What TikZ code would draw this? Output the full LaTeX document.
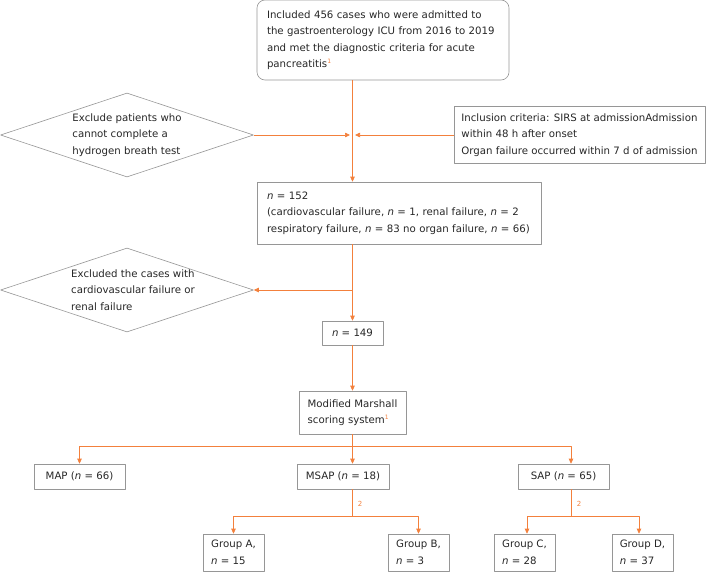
\documentclass[tikz,border=0pt]{standalone}
\usepackage{fontspec}
\setmainfont{DejaVu Sans}
\usetikzlibrary{shapes.geometric,arrows.meta}
\definecolor{lineor}{RGB}{243,128,60}
\definecolor{boxgr}{RGB}{150,150,150}
\newcommand{\ncase}{\textit{n}}
\newcommand{\refone}{\textsuperscript{\color{lineor}\fontsize{6}{6}\selectfont 1}}
\begin{document}
\begin{tikzpicture}[x=1pt,y=-1pt, font=\fontsize{10.2}{16.5}\selectfont, line join=round, >={Triangle[length=5pt,width=4.5pt]}]
	\tikzset{
		box/.style={draw=boxgr, line width=0.6pt, inner xsep=10pt, inner ysep=0pt, align=left, text=black!85},
		dia/.style={draw=boxgr, line width=0.6pt, diamond, minimum width=253pt, minimum height=84pt, inner sep=0pt},
		conn/.style={draw=lineor, line width=0.7pt},
		note/.style={text=lineor, font=\fontsize{7}{7}\selectfont}
	}
	\useasboundingbox (0,0) rectangle (706,581);
	%Hộp đầu
	\node[box, rounded corners=8pt, minimum width=252pt, minimum height=80pt, text width=232pt] (top) at (383,40) {Included 456 cases who were admitted to\\ the gastroenterology ICU from 2016 to 2019\\ and met the diagnostic criteria for acute\\ pancreatitis\refone};
	\node[box, inner xsep=3pt, minimum width=251pt, minimum height=57pt] (inc) at (579.5,135) {Inclusion criteria: SIRS at admissionAdmission\\ within 48 h after onset\\ Organ failure occurred within 7 d of admission};
	\node[box, minimum width=284pt, minimum height=62pt, text width=264pt] (n152) at (399,213) {\ncase{} = 152\\ (cardiovascular failure, \ncase{} = 1, renal failure, \ncase{} = 2\\ respiratory failure, \ncase{} = 83 no organ failure, \ncase{} = 66)};
	%Hình thoi
	\node[dia] (dia1) at (127,135) {};
	\node[align=left, text=black!85] at (dia1) {Exclude patients who\\ cannot complete a\\ hydrogen breath test};
	\node[dia] (dia2) at (127,290) {};
	\node[align=left, text=black!85] at ([xshift=6pt]dia2.center) {Excluded the cases with\\ cardiovascular failure or\\ renal failure};
	\node[box, inner xsep=0pt, minimum width=61pt, minimum height=24pt] (n149) at (352.5,333) {\ncase{} = 149};
	\node[box, inner xsep=0pt, minimum width=107pt, minimum height=43pt] (msys) at (352.5,412.5) {Modified Marshall\\ scoring system\refone};
	%Ba nhóm
	\node[box, inner xsep=0pt, minimum width=91pt, minimum height=25pt] (map) at (79.5,476.5) {MAP (\ncase{} = 66)};
	\node[box, inner xsep=0pt, minimum width=92pt, minimum height=25pt] (msap) at (343,476.5) {MSAP (\ncase{} = 18)};
	\node[box, inner xsep=0pt, minimum width=91pt, minimum height=25pt] (sap) at (563.5,476.5) {SAP (\ncase{} = 65)};
	\foreach \g/\x/\m in {A/233.5/15, B/418.5/3, C/524.5/28, D/642.5/37}
	\node[box, inner xsep=0pt, minimum width=61pt, minimum height=37pt] (g\g) at (\x,552.5) {Group \g,\\ \ncase{} = \m};
	%Mũi tên
	\draw[conn,->] (top.south -| n149) -- (n152.north -| n149);
	\coordinate (j1) at (n149 |- dia1.east);
	\draw[conn,->,shorten >=2.5pt] (dia1.east) -- (j1);
	\draw[conn,->,shorten >=2.5pt] (inc.west) -- (j1);
	\draw[conn,->] (n152.south -| n149) -- (n149.north);
	\coordinate (j2) at (n149 |- dia2.east);
	\draw[conn,->] (j2) -- (dia2.east);
	\draw[conn,->] (n149.south) -- (msys.north);
	\coordinate (b1) at (352.5,446);
	\draw[conn] (msys.south) -- (b1);
	\draw[conn,->] (b1) -| (map.north);
	\draw[conn,->] (b1) -- (b1 |- msap.north);
	\draw[conn,->] (b1) -| ([xshift=7.5pt]sap.north);
	\coordinate (b2) at (352.5,516);
	\draw[conn] (b2 |- msap.south) -- (b2);
	\draw[conn,->] (b2) -| (gA.north);
	\draw[conn,->] (b2) -| (gB.north);
	\coordinate (b3) at (571,516);
	\draw[conn] (b3 |- sap.south) -- (b3);
	\draw[conn,->] (b3) -| ([xshift=2.5pt]gC.north);
	\draw[conn,->] (b3) -| ([xshift=-3.5pt]gD.north);
	\node[note] at (360,504) {2};
	\node[note] at (579,504) {2};
\end{tikzpicture}
\end{document}
